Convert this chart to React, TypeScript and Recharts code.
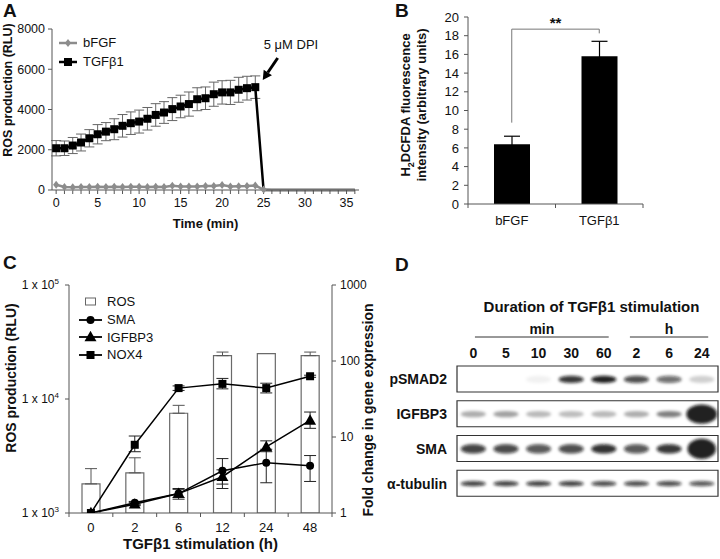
import React from "react";
import {
  LineChart,
  Line,
  BarChart,
  Bar,
  ComposedChart,
  Scatter,
  XAxis,
  YAxis,
  ErrorBar,
  ReferenceLine,
  ReferenceDot,
  Legend,
} from "recharts";

const FONT = "'Liberation Sans', Arial, Helvetica, sans-serif";
const INK = "#111";
const AXIS = "#555";

// ---- A: ROS over time ----
const minutes = [
  0, 1, 2, 3, 4, 5, 6, 7, 8, 9, 10, 11, 12, 13, 14, 15, 16, 17, 18, 19, 20, 21, 22, 23, 24, 25, 26, 27, 28,
  29, 30, 31, 32, 33, 34, 35, 36,
];
const tgfRos = [
  2075, 2075, 2210, 2360, 2570, 2770, 2900, 3020, 3190, 3320, 3400, 3540, 3730, 3850, 4020, 4150, 4270, 4510,
  4560, 4760, 4850, 4850, 4980, 5060, 5110, 0, 0, 0, 0, 0, 0, 0, 0, 0, 0, 0, 0,
];
const tgfErr = [
  380, 360, 400, 420, 430, 480, 450, 520, 560, 560, 570, 560, 560, 540, 570, 560, 600, 570, 560, 600, 580, 600,
  620, 590, 560, null, null, null, null, null, null, null, null, null, null, null, null,
];
const bfgfRos = [
  260, 150, 140, 150, 150, 160, 150, 160, 150, 160, 160, 150, 160, 150, 210, 180, 170, 180, 200, 200, 250, 170,
  190, 200, 220, 20, 0, 0, 0, 0, 0, 0, 0, 0, 0, 0, 0,
];
const minuteLabels = [0, 5, 10, 15, 20, 25, 30, 35];
const rosTicks = [0, 2000, 4000, 6000, 8000];

// ---- B: H2DCFDA ----
const bCats = ["bFGF", "TGFβ1"];
const bMeans = [6.4, 15.8];
const bErrs = [0.85, 1.6];
const bTicks = [0, 2, 4, 6, 8, 10, 12, 14, 16, 18, 20];

// ---- C: time course ----
const cHours = ["0", "2", "6", "12", "24", "48"];
const rosRlu = [1800, 2250, 7500, 24000, 25000, 24000];
const rosErrUp = [650, 800, 1300, 1800, null, 1800];
const smaFold = [1, 1.36, 1.8, 3.6, 4.6, 4.2];
const smaErr = [null, [0.06, 0.06], [0.2, 0.25], [1.5, 1.6], [2.1, 2.3], [1.6, 1.5]];
const igfbp3Fold = [1, 1.3, 1.8, 3.0, 7.4, 16.5];
const igfbp3Err = [null, [0.05, 0.08], [0.28, 0.3], [0.6, 0.7], [1.0, 1.5], [3.5, 4.8]];
const nox4Fold = [1, 7.9, 44, 50, 44, 63];
const nox4Err = [null, [1.5, 2.4], [3, 3], [7, 9], [6, 7], [2, 2]];
const rluTicks = [1000, 10000, 100000];
const foldTicks = [1, 10, 100, 1000];

// ---- D: western blot ----
const laneLabels = ["0", "5", "10", "30", "60", "2", "6", "24"];
const laneGroups = ["min", "h"];
const laneGroupCenters = [2.6, 6.5];
const laneGroupSpans = [4.1, 2.4];
const blotProteins = ["pSMAD2", "IGFBP3", "SMA", "α-tubulin"];
const pSmad2Level = [0, 0, 0.06, 0.9, 1, 0.8, 0.65, 0.2];
const igfbp3Level = [0.35, 0.4, 0.3, 0.28, 0.3, 0.35, 0.55, 3];
const smaLevel = [0.85, 0.82, 0.75, 0.8, 0.92, 0.75, 0.9, 2.2];
const tubulinLevel = [0.85, 0.85, 0.85, 0.85, 0.8, 0.8, 0.8, 0.75];

const aRows = minutes.map((t, i) => ({ t, tgf: tgfRos[i], tgfErr: tgfErr[i], bfgf: bfgfRos[i] }));
const bRows = bCats.map((cat, i) => ({ cat, mean: bMeans[i], err: bErrs[i] }));
const cRows = cHours.map((h, i) => ({
  h,
  ros: rosRlu[i],
  rosErr: rosErrUp[i] == null ? null : [0, rosErrUp[i]],
  sma: smaFold[i],
  smaErr: smaErr[i],
  igfbp3: igfbp3Fold[i],
  igfbp3Err: igfbp3Err[i],
  nox4: nox4Fold[i],
  nox4Err: nox4Err[i],
}));
const blotLevels = [pSmad2Level, igfbp3Level, smaLevel, tubulinLevel];
const blotRows = blotProteins.map((protein) => ({ protein, frame: laneLabels.length }));
const blotBands = blotProteins.flatMap((protein, r) =>
  laneLabels.map((_, i) => ({ protein, x: i + 0.5, level: blotLevels[r][i], row: r }))
);
const laneTicks = laneLabels.map((_, i) => i + 0.5);
const bandRy = [3.6, 3.2, 4.6, 2.6];

function Marker({ kind, cx, cy, size, fill }: any) {
  if (kind === "square") return <rect x={cx - size / 2} y={cy - size / 2} width={size} height={size} fill={fill} />;
  if (kind === "circle") return <circle cx={cx} cy={cy} r={size / 2} fill={fill} />;
  if (kind === "triangle")
    return (
      <polygon
        points={`${cx},${cy - size * 0.62} ${cx + size * 0.6},${cy + size * 0.42} ${cx - size * 0.6},${cy + size * 0.42}`}
        fill={fill}
      />
    );
  return (
    <polygon
      points={`${cx},${cy - size / 2} ${cx + size / 2.6},${cy} ${cx},${cy + size / 2} ${cx - size / 2.6},${cy}`}
      fill={fill}
    />
  );
}

const dotFor = (kind: string, size: number, fill: string, lastIndex = 99) => (p: any) =>
  p.index > lastIndex || p.cy == null ? (
    <g key={`d${p.index}`} />
  ) : (
    <Marker key={`d${p.index}`} kind={kind} cx={p.cx} cy={p.cy} size={size} fill={fill} />
  );

function makeLegend(items: any[], iconW: number, rowH: number, gap: number) {
  return () => (
    <div style={{ fontFamily: FONT, fontSize: 13, color: INK }}>
      {items.map((it) => (
        <div key={it.name} style={{ display: "flex", alignItems: "center", height: rowH }}>
          <svg width={iconW} height={12} style={{ display: "block" }}>
            {it.kind === "box" ? (
              <rect x={iconW / 2 - 5} y={2} width={10} height={7} fill="#fff" stroke="#666" />
            ) : (
              <>
                <line x1={0} y1={6} x2={iconW} y2={6} stroke={it.color} strokeWidth={it.width} />
                <Marker kind={it.kind} cx={iconW / 2} cy={6} size={it.size} fill={it.color} />
              </>
            )}
          </svg>
          <span style={{ marginLeft: gap, lineHeight: "13px" }}>{it.name}</span>
        </div>
      ))}
    </div>
  );
}

const rotLabel = (text: string, x: number, cy: number, size: number) => (
  <text
    transform={`translate(${x},${cy}) rotate(-90)`}
    textAnchor="middle"
    fontFamily={FONT}
    fontWeight="bold"
    fontSize={size}
    fill={INK}
  >
    {text}
  </text>
);

function PanelA() {
  return (
    <LineChart width={370} height={235} data={aRows} margin={{ top: 29, right: 11, bottom: 0, left: 0 }}>
      <XAxis
        dataKey="t"
        type="number"
        domain={[-0.5, 36.5]}
        ticks={minutes}
        interval={0}
        tickFormatter={(v) => (minuteLabels.includes(v) ? String(v) : "")}
        tick={{ fill: INK, fontSize: 12.5, fontFamily: FONT }}
        tickSize={4}
        tickMargin={4}
        height={45}
        stroke={AXIS}
        label={({ viewBox }: any) => (
          <text
            x={viewBox.x + viewBox.width / 2}
            y={viewBox.y + 38}
            textAnchor="middle"
            fontFamily={FONT}
            fontWeight="bold"
            fontSize={13}
            fill={INK}
          >
            Time (min)
          </text>
        )}
      />
      <XAxis xAxisId="top" orientation="top" type="number" domain={[-0.5, 36.5]} tick={false} tickLine={false} height={0} stroke={AXIS} />
      <YAxis
        domain={[0, 8000]}
        ticks={rosTicks}
        interval={0}
        width={52}
        tickSize={4}
        tickMargin={3}
        tick={{ fill: INK, fontSize: 12.5, fontFamily: FONT }}
        stroke={AXIS}
        label={() => rotLabel("ROS production (RLU)", 12, 90, 12.5)}
      />
      <YAxis yAxisId="right" orientation="right" domain={[0, 8000]} tick={false} tickLine={false} width={0} stroke={AXIS} />
      <Line dataKey="tgf" stroke="#000" strokeWidth={2.5} dot={dotFor("square", 8, "#000", 24)} isAnimationActive={false}>
        <ErrorBar dataKey="tgfErr" width={5} stroke="#666" strokeWidth={1} />
      </Line>
      <Line dataKey="bfgf" stroke="#8c8c8c" strokeWidth={2.5} dot={dotFor("diamond", 8, "#8c8c8c", 25)} isAnimationActive={false} />
      <ReferenceLine
        segment={[
          { x: 26.7, y: 6560 },
          { x: 24.9, y: 5470 },
        ]}
        shape={(p: any) => {
          const { x1, y1, x2, y2 } = p;
          const a = Math.atan2(y2 - y1, x2 - x1);
          const L = 9;
          const W = 5;
          const bx = x2 - Math.cos(a) * L;
          const by = y2 - Math.sin(a) * L;
          return (
            <g>
              <line x1={x1} y1={y1} x2={bx} y2={by} stroke="#000" strokeWidth={3} />
              <polygon
                points={`${x2},${y2} ${bx + Math.sin(a) * W},${by - Math.cos(a) * W} ${bx - Math.sin(a) * W},${by + Math.cos(a) * W}`}
                fill="#000"
              />
            </g>
          );
        }}
      />
      <ReferenceDot
        x={28.3}
        y={7250}
        r={0}
        fill="none"
        stroke="none"
        label={{ value: "5 μM DPI", position: "center", fill: INK, fontSize: 13, fontFamily: FONT }}
      />
      <Legend
        layout="horizontal"
        align="center"
        verticalAlign="middle"
        wrapperStyle={{ left: 59, top: 33, width: 120 }}
        content={makeLegend(
          [
            { name: "bFGF", kind: "diamond", color: "#8c8c8c", size: 8, width: 2.5 },
            { name: "TGFβ1", kind: "square", color: "#000", size: 8, width: 2.5 },
          ],
          18,
          19,
          6
        )}
      />
    </LineChart>
  );
}

const EdgeTick = (tickLen: number, labelDy: number, fontSize: number) => (p: any) => {
  const { x, y, payload, index, visibleTicksCount } = p;
  const half = payload?.offset ?? 0;
  return (
    <g>
      <line x1={x - half} x2={x - half} y1={y} y2={y + tickLen} stroke={AXIS} />
      {index === visibleTicksCount - 1 && <line x1={x + half} x2={x + half} y1={y} y2={y + tickLen} stroke={AXIS} />}
      <text x={x} y={y + labelDy} textAnchor="middle" fontFamily={FONT} fontSize={fontSize} fill={INK}>
        {payload.value}
      </text>
    </g>
  );
};

function PanelB() {
  return (
    <BarChart width={300} height={240} data={bRows} margin={{ top: 17, right: 27, bottom: 0, left: 0 }} barSize={36}>
      <XAxis dataKey="cat" height={36} interval={0} tickSize={0} tickMargin={0} tick={EdgeTick(4, 21, 13)} stroke={AXIS} />
      <XAxis xAxisId="top" orientation="top" dataKey="cat" tick={false} tickLine={false} height={0} stroke={AXIS} />
      <YAxis
        domain={[0, 20]}
        ticks={bTicks}
        interval={0}
        width={98}
        tickSize={4}
        tickMargin={5}
        tick={{ fill: INK, fontSize: 13, fontFamily: FONT }}
        stroke={AXIS}
        label={() => (
          <g>
            <text
              transform="translate(40,105) rotate(-90)"
              textAnchor="middle"
              fontFamily={FONT}
              fontWeight="bold"
              fontSize={13}
              fill={INK}
            >
              H<tspan dy={4} fontSize={9}>2</tspan>
              <tspan dy={-4}>DCFDA fluorescence</tspan>
            </text>
            {rotLabel("intensity (arbitrary units)", 56, 105, 13)}
          </g>
        )}
      />
      <YAxis yAxisId="right" orientation="right" domain={[0, 20]} tick={false} tickLine={false} width={0} stroke={AXIS} />
      <Bar dataKey="mean" fill="#000" isAnimationActive={false}>
        <ErrorBar dataKey="err" width={8} stroke="#000" strokeWidth={1.2} />
      </Bar>
      <ReferenceLine segment={[{ x: "bFGF", y: 8.7 }, { x: "bFGF", y: 18.7 }]} stroke="#777" />
      <ReferenceLine
        segment={[{ x: "bFGF", y: 18.7 }, { x: "TGFβ1", y: 18.7 }]}
        stroke="#777"
        label={{ value: "**", position: "top", fill: INK, fontSize: 15, fontWeight: "bold", fontFamily: FONT, offset: 1 }}
      />
      <ReferenceLine segment={[{ x: "TGFβ1", y: 18.7 }, { x: "TGFβ1", y: 18.25 }]} stroke="#777" />
    </BarChart>
  );
}

const PowTick = (p: any) => {
  const exp = Math.round(Math.log10(p.payload.value));
  return (
    <text x={p.x} y={p.y} dy={4} textAnchor="end" fontFamily={FONT} fontSize={12} fill={INK}>
      1 x 10<tspan dy={-5} fontSize={8}>{exp}</tspan>
    </text>
  );
};

function PanelC() {
  return (
    <ComposedChart width={380} height={309} data={cRows} margin={{ top: 35, right: 0, bottom: 0, left: 0 }} barSize={18}>
      <XAxis
        dataKey="h"
        height={46}
        interval={0}
        tickSize={0}
        tickMargin={0}
        tick={EdgeTick(4, 19, 13)}
        stroke={AXIS}
        label={({ viewBox }: any) => (
          <text
            x={viewBox.x + viewBox.width / 2}
            y={viewBox.y + 36}
            textAnchor="middle"
            fontFamily={FONT}
            fontWeight="bold"
            fontSize={15}
            fill={INK}
          >
            TGFβ1 stimulation (h)
          </text>
        )}
      />
      <XAxis xAxisId="top" orientation="top" dataKey="h" tick={false} tickLine={false} height={0} stroke={AXIS} />
      <YAxis
        yAxisId="ros"
        scale="log"
        domain={[1000, 100000]}
        ticks={rluTicks}
        interval={0}
        allowDataOverflow
        width={69}
        tickSize={4}
        tickMargin={6}
        tick={PowTick}
        stroke={AXIS}
        label={() => rotLabel("ROS production (RLU)", 16, 128, 14)}
      />
      <YAxis
        yAxisId="fold"
        orientation="right"
        scale="log"
        domain={[1, 1000]}
        ticks={foldTicks}
        interval={0}
        allowDataOverflow
        width={48}
        tickSize={4}
        tickMargin={4}
        tick={{ fill: INK, fontSize: 12, fontFamily: FONT }}
        stroke={AXIS}
        label={() => rotLabel("Fold change in gene expression", 373, 160, 14)}
      />
      <Bar yAxisId="ros" dataKey="ros" fill="#fff" stroke="#6a6a6a" strokeWidth={1.2} isAnimationActive={false}>
        <ErrorBar dataKey="rosErr" width={6} stroke="#555" strokeWidth={1} />
      </Bar>
      <Line yAxisId="fold" dataKey="sma" stroke="#000" strokeWidth={1.5} dot={dotFor("circle", 8, "#000")} isAnimationActive={false}>
        <ErrorBar dataKey="smaErr" width={6} stroke="#222" strokeWidth={1} />
      </Line>
      <Line yAxisId="fold" dataKey="igfbp3" stroke="#000" strokeWidth={1.5} dot={dotFor("triangle", 10, "#000")} isAnimationActive={false}>
        <ErrorBar dataKey="igfbp3Err" width={6} stroke="#222" strokeWidth={1} />
      </Line>
      <Line yAxisId="fold" dataKey="nox4" stroke="#000" strokeWidth={1.5} dot={dotFor("square", 8, "#000")} isAnimationActive={false}>
        <ErrorBar dataKey="nox4Err" width={6} stroke="#222" strokeWidth={1} />
      </Line>
      <Legend
        layout="horizontal"
        align="center"
        verticalAlign="middle"
        wrapperStyle={{ left: 79, top: 43, width: 120 }}
        content={makeLegend(
          [
            { name: "ROS", kind: "box" },
            { name: "SMA", kind: "circle", color: "#000", size: 8, width: 1.8 },
            { name: "IGFBP3", kind: "triangle", color: "#000", size: 10, width: 1.8 },
            { name: "NOX4", kind: "square", color: "#000", size: 8, width: 1.8 },
          ],
          23,
          17.7,
          5
        )}
      />
    </ComposedChart>
  );
}

const BandShape = (p: any) => {
  const { cx, cy, payload } = p;
  const lvl = payload.level;
  if (!lvl || cx == null) return <g />;
  const grow = Math.max(1, lvl);
  const rx = 12.5 + (grow - 1) * 1.4;
  const ry = bandRy[payload.row] * grow;
  return (
    <ellipse cx={cx} cy={cy} rx={rx} ry={ry} fill="#0c0c0c" fillOpacity={Math.min(1, lvl) * 0.92} filter="url(#blotBlur)" />
  );
};

const GroupTick = (p: any) => {
  const { x, y, index } = p;
  const perLane = 261 / laneLabels.length;
  const half = (laneGroupSpans[index] / 2) * perLane;
  return (
    <g>
      <line x1={x - half} x2={x + half} y1={y - 5} y2={y - 5} stroke="#333" />
      <text x={x} y={y - 8} textAnchor="middle" fontFamily={FONT} fontWeight="bold" fontSize={14} fill={INK}>
        {laneGroups[index]}
      </text>
    </g>
  );
};

function PanelD() {
  return (
    <ComposedChart layout="vertical" width={340} height={215} data={blotRows} margin={{ top: 0, right: 2, bottom: 4, left: 0 }}>
      <XAxis
        xAxisId="a"
        orientation="top"
        type="number"
        dataKey="x"
        domain={[0, laneLabels.length]}
        ticks={laneTicks}
        interval={0}
        tickFormatter={(v) => laneLabels[Math.floor(v)]}
        height={20}
        axisLine={false}
        tickLine={false}
        tickSize={0}
        tickMargin={4}
        tick={{ fill: INK, fontSize: 14, fontWeight: "bold", fontFamily: FONT }}
      />
      <XAxis
        xAxisId="b"
        orientation="top"
        type="number"
        dataKey="frame"
        domain={[0, laneLabels.length]}
        ticks={laneGroupCenters}
        interval={0}
        height={52}
        axisLine={false}
        tickLine={false}
        tickSize={0}
        tickMargin={0}
        tick={GroupTick}
        label={({ viewBox }: any) => (
          <text
            x={viewBox.x + viewBox.width / 2 + 4}
            y={viewBox.y + 22}
            textAnchor="middle"
            fontFamily={FONT}
            fontWeight="bold"
            fontSize={15}
            fill={INK}
          >
            Duration of TGFβ1 stimulation
          </text>
        )}
      />
      <YAxis
        type="category"
        dataKey="protein"
        allowDuplicatedCategory={false}
        width={77}
        axisLine={false}
        tickLine={false}
        tickSize={0}
        tickMargin={10}
        tick={{ fill: INK, fontSize: 14, fontWeight: "bold", fontFamily: FONT }}
      />
      <Bar xAxisId="a" dataKey="frame" barSize={26} fill="#fff" stroke="#333" strokeWidth={1.2} isAnimationActive={false} />
      <Scatter xAxisId="a" data={blotBands} dataKey="x" shape={BandShape} isAnimationActive={false} />
    </ComposedChart>
  );
}

const letter = (ch: string, left: number, top: number) => (
  <div
    style={{
      position: "absolute",
      left,
      top,
      fontFamily: FONT,
      fontWeight: "bold",
      fontSize: 19,
      lineHeight: "21px",
      color: INK,
    }}
  >
    {ch}
  </div>
);

export default function App() {
  return (
    <div style={{ position: "absolute", left: 0, top: 0, width: 720, height: 559, background: "#fff", overflow: "hidden" }}>
      <svg width={0} height={0} style={{ position: "absolute" }}>
        <defs>
          <filter id="blotBlur" x="-40%" y="-80%" width="180%" height="260%">
            <feGaussianBlur stdDeviation={1.4} />
          </filter>
        </defs>
      </svg>
      <div style={{ position: "absolute", left: 0, top: 0 }}>
        <PanelA />
      </div>
      <div style={{ position: "absolute", left: 370, top: 0 }}>
        <PanelB />
      </div>
      <div style={{ position: "absolute", left: 0, top: 250 }}>
        <PanelC />
      </div>
      <div style={{ position: "absolute", left: 380, top: 290 }}>
        <PanelD />
      </div>
      {letter("A", 3, 0)}
      {letter("B", 395, 0)}
      {letter("C", 3, 252)}
      {letter("D", 395, 254)}
    </div>
  );
}
